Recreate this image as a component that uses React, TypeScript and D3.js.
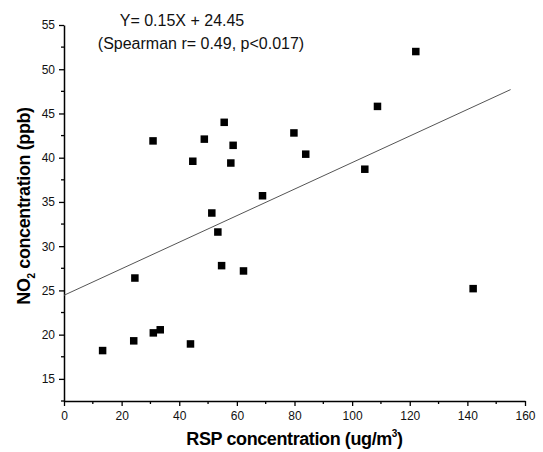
import { useRef, useEffect } from 'react';
import * as d3 from 'd3';

const W = 543;
const H = 452;
const MARGIN = { top: 25, right: 18, bottom: 51, left: 64 };
const FONT = 'Arial, "Liberation Sans", sans-serif';

// RSP (ug/m3) vs NO2 (ppb)
const rsp = [13.4, 24.2, 24.6, 31.0, 33.4, 43.9, 30.9, 44.7, 48.7, 55.6, 58.7, 57.9, 51.3, 53.4, 54.7, 62.3, 68.9, 79.8, 83.9, 104.4, 108.8, 122.1, 142.0];
const no2 = [18.2, 19.3, 26.4, 20.2, 20.55, 18.95, 41.9, 39.6, 42.1, 44.0, 41.4, 39.4, 33.75, 31.6, 27.8, 27.2, 35.7, 42.8, 40.4, 38.7, 45.8, 52.0, 25.2];

const fitSlope = 0.15;
const fitIntercept = 24.45;
const fitRange = [0, 155];

const xTicks = [0, 20, 40, 60, 80, 100, 120, 140, 160];
const xMinor = [10, 30, 50, 70, 90, 110, 130, 150];
const yTicks = [15, 20, 25, 30, 35, 40, 45, 50, 55];
const yMinor = [12.5, 17.5, 22.5, 27.5, 32.5, 37.5, 42.5, 47.5, 52.5];

export default function App() {
  const svgRef = useRef<SVGSVGElement>(null);

  useEffect(() => {
    if (!svgRef.current) return;
    const svg = d3.select(svgRef.current);
    svg.selectAll('*').remove();

    const innerW = W - MARGIN.left - MARGIN.right;
    const innerH = H - MARGIN.top - MARGIN.bottom;
    const x = d3.scaleLinear().domain([0, 160]).range([0, innerW]);
    const y = d3.scaleLinear().domain([12.5, 55]).range([innerH, 0]);

    const g = svg.append('g').attr('transform', `translate(${MARGIN.left},${MARGIN.top})`);

    // ── Axes ──
    const xAxis = d3.axisBottom(x).tickValues(xTicks).tickSize(5).tickPadding(5).tickSizeOuter(0);
    const gx = g.append('g').attr('transform', `translate(0,${innerH})`).call(xAxis);
    gx.selectAll('text').attr('fill', '#111').style('font-size', '12px').style('font-family', FONT);
    gx.selectAll('.tick line').attr('stroke', '#000').attr('stroke-width', 1.3);
    gx.select('.domain').attr('stroke', '#000').attr('stroke-width', 1.5);
    xMinor.forEach(v => {
      g.append('line').attr('x1', x(v)).attr('x2', x(v)).attr('y1', innerH).attr('y2', innerH + 3)
        .attr('stroke', '#000').attr('stroke-width', 1.3);
    });

    const yAxis = d3.axisLeft(y).tickValues(yTicks).tickSize(5).tickPadding(4).tickSizeOuter(0);
    const gy = g.append('g').call(yAxis);
    gy.selectAll('text').attr('fill', '#111').style('font-size', '12px').style('font-family', FONT);
    gy.selectAll('.tick line').attr('stroke', '#000').attr('stroke-width', 1.3);
    gy.select('.domain').attr('stroke', '#000').attr('stroke-width', 1.5);
    yMinor.forEach(v => {
      g.append('line').attr('x1', -3).attr('x2', 0).attr('y1', y(v)).attr('y2', y(v))
        .attr('stroke', '#000').attr('stroke-width', 1.3);
    });

    // ── Fit line ──
    const line = d3.line<number>().x(d => x(d)).y(d => y(fitSlope * d + fitIntercept));
    g.append('path').datum(fitRange).attr('d', line)
      .attr('fill', 'none').attr('stroke', '#555').attr('stroke-width', 1);

    // ── Points ──
    const S = 7.5;
    g.selectAll('rect.pt').data(rsp).enter().append('rect')
      .attr('class', 'pt')
      .attr('x', d => x(d) - S / 2)
      .attr('y', (_, i) => y(no2[i]) - S / 2)
      .attr('width', S).attr('height', S)
      .attr('fill', '#000');

    // ── Annotation ──
    svg.append('text').attr('x', 182).attr('y', 26).attr('text-anchor', 'middle')
      .style('font-size', '16px').style('font-family', FONT).attr('fill', '#111')
      .text('Y= 0.15X + 24.45');
    svg.append('text').attr('x', 201).attr('y', 49).attr('text-anchor', 'middle')
      .style('font-size', '16px').style('font-family', FONT).attr('fill', '#111')
      .text('(Spearman r= 0.49, p<0.017)');

    // ── Axis titles ──
    const xt = svg.append('text').attr('x', MARGIN.left + innerW / 2).attr('y', 445)
      .attr('text-anchor', 'middle').style('font-size', '18px').style('font-weight', 'bold')
      .style('font-family', FONT).style('letter-spacing', '-0.4px').attr('fill', '#000');
    xt.append('tspan').text('RSP concentration (ug/m');
    xt.append('tspan').attr('dy', -8).style('font-size', '10px').text('3');
    xt.append('tspan').attr('dy', 8).text(')');

    const yt = svg.append('text')
      .attr('transform', `translate(30,206) rotate(-90)`)
      .attr('text-anchor', 'middle').style('font-size', '18px').style('font-weight', 'bold')
      .style('font-family', FONT).style('letter-spacing', '-0.4px').attr('fill', '#000');
    yt.append('tspan').text('NO');
    yt.append('tspan').attr('dy', 5).style('font-size', '10px').text('2');
    yt.append('tspan').attr('dy', -5).text(' concentration (ppb)');
  }, []);

  return (
    <svg ref={svgRef} width={W} height={H}
      style={{ position: 'absolute', left: 0, top: 0, background: '#fff' }} />
  );
}
